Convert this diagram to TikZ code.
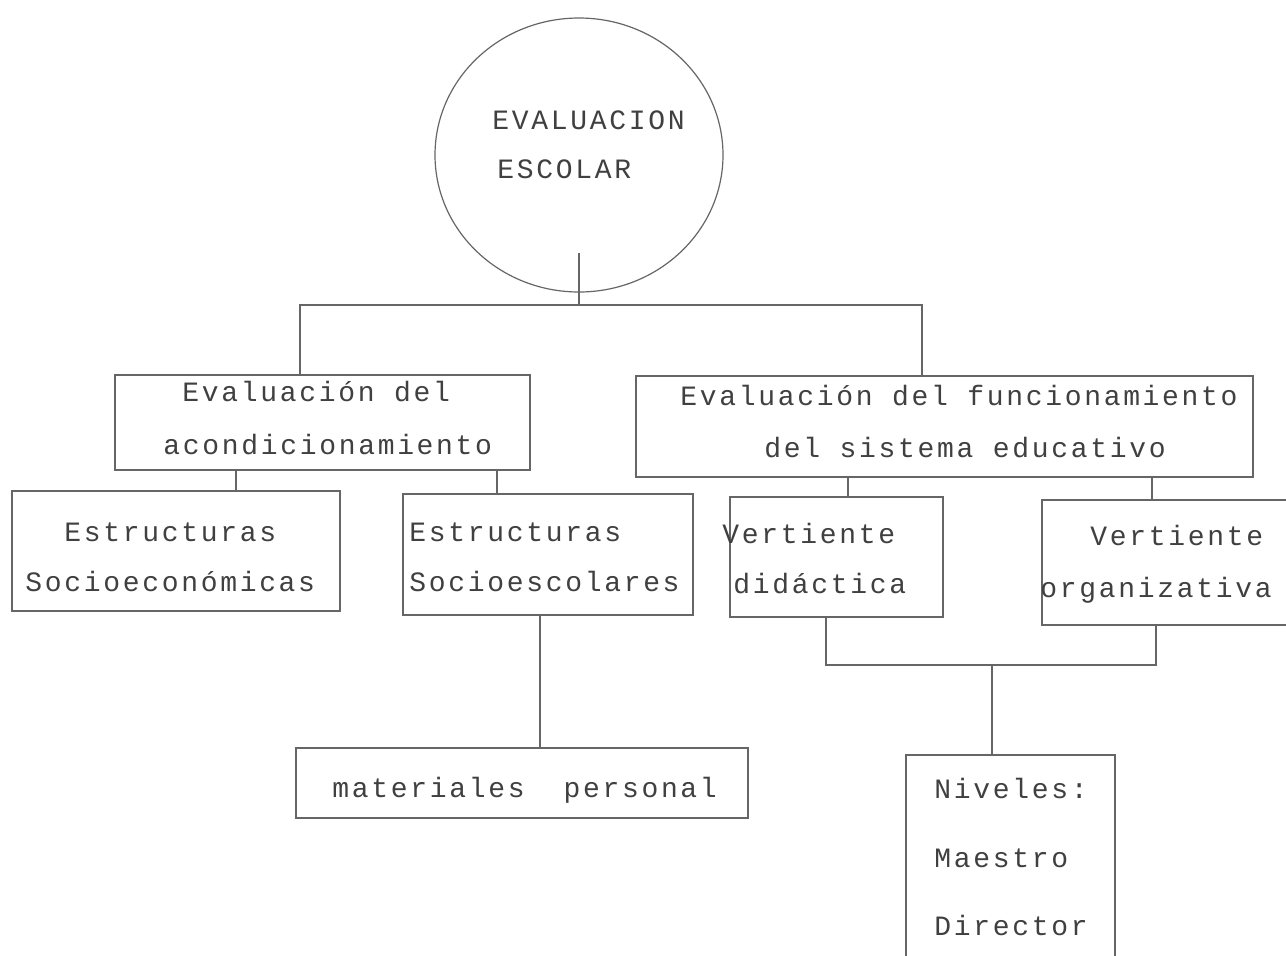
\documentclass[tikz,border=0pt]{standalone}
\usepackage{fontspec}
\newfontfamily\typer[LetterSpace=9.6]{Liberation Mono}
\usetikzlibrary{shapes.geometric}
\begin{document}
\begin{tikzpicture}[x=0.5pt,y=-0.5pt,
  box/.style={draw=black!60, line width=0.6pt, rectangle, inner sep=0pt},
  conn/.style={draw=black!60, line width=0.6pt},
  txt/.style={anchor=base west, inner sep=0pt, text=black!75, font=\typer\fontsize{14}{16}\selectfont}]
\useasboundingbox (0,0) rectangle (1286,955);
\clip (0,0) rectangle (1286,955);
\fill[white] (0,0) rectangle (1286,955);
% root
\node[draw=black!60, line width=0.6pt, ellipse, inner sep=0pt, minimum width=144pt, minimum height=137pt] (root) at (579,155) {};
\node[txt] (r1) at (492,129) {EVALUACION};
\node[txt] (r2) at (497,178) {ESCOLAR};
% boxes
\node[box, minimum width=207.5pt, minimum height=47.5pt] (A) at (322.5,422.5) {};
\node[box, minimum width=308.5pt, minimum height=50.5pt] (B) at (944.5,426.5) {};
\node[box, minimum width=164pt, minimum height=60pt] (C) at (176,551) {};
\node[box, minimum width=145pt, minimum height=60.5pt] (D) at (548,554.5) {};
\node[box, minimum width=106.5pt, minimum height=60pt] (E) at (836.5,557) {};
\node[box, minimum width=129pt, minimum height=62.5pt] (F) at (1171,562.5) {};
\node[box, minimum width=104.5pt, minimum height=110pt] (G) at (1010.5,865) {};
\node[box, minimum width=226pt, minimum height=35pt] (H) at (522,783) {};
% texts
\node[txt] (a1) at (182,401) {Evaluación del};
\node[txt] (a2) at (163,454) {acondicionamiento};
\node[txt] (b1) at (680,405) {Evaluación del funcionamiento};
\node[txt] (b2) at (764,457) {del sistema educativo};
\node[txt] (c1) at (64,541) {Estructuras};
\node[txt] (c2) at (25,591) {Socioeconómicas};
\node[txt] (d1) at (409,541) {Estructuras};
\node[txt] (d2) at (409,591) {Socioescolares};
\node[txt] (e1) at (722,543) {Vertiente};
\node[txt] (e2) at (733,593) {didáctica};
\node[txt] (f1) at (1090,545) {Vertiente};
\node[txt] (f2) at (1040,597) {organizativa};
\node[txt] (h1) at (332,797) {materiales\ \ personal};
\node[txt] (g1) at (934,798) {Niveles:};
\node[txt] (g2) at (934,867) {Maestro};
\node[txt] (g3) at (934,935) {Director};
% connectors
\coordinate (j0) at (579,305);
\coordinate (jl) at (300,305);
\coordinate (jr) at (922,305);
\draw[conn] ([yshift=20pt]root.south) -- (j0);
\draw[conn] (jl |- A.north) -- (jl) -- (jr) -- (jr |- B.north);
\coordinate (xc) at (236,0);
\coordinate (xd) at (497,0);
\coordinate (xe) at (848,0);
\coordinate (xf) at (1152,0);
\draw[conn] (A.south -| xc) -- (C.north -| xc);
\draw[conn] (A.south -| xd) -- (D.north -| xd);
\draw[conn] (B.south -| xe) -- (E.north -| xe);
\draw[conn] (B.south -| xf) -- (F.north -| xf);
\coordinate (kE) at (826,665);
\coordinate (kF) at (1156,665);
\coordinate (kG) at (992,665);
\draw[conn] (E.south -| kE) -- (kE) -- (kF) -- (F.south -| kF);
\draw[conn] (kG) -- (G.north -| kG);
\coordinate (xh) at (540,0);
\draw[conn] (D.south -| xh) -- (H.north -| xh);
\end{tikzpicture}
\end{document}
